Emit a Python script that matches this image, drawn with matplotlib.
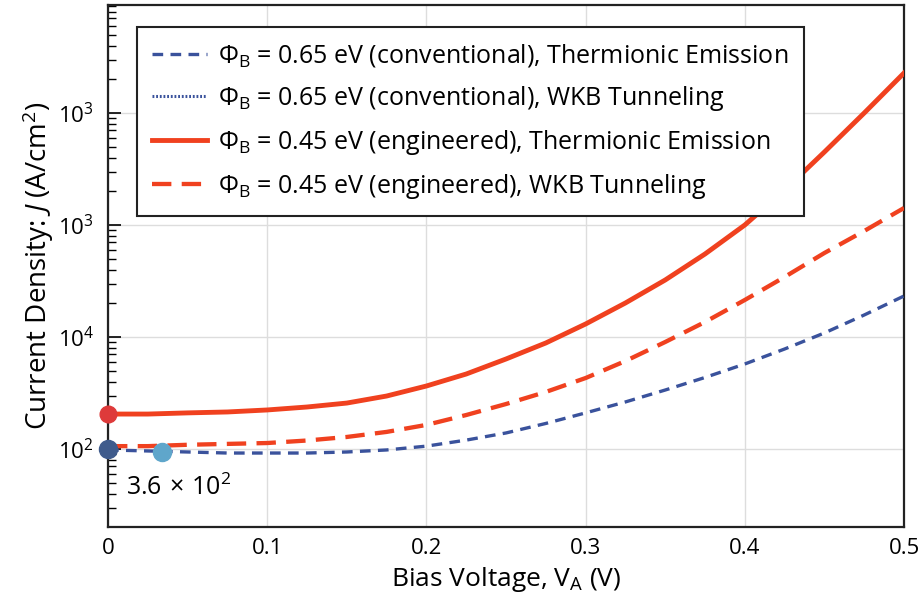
import matplotlib
matplotlib.use("AGG")
import matplotlib.pyplot as plt
from matplotlib.ticker import FixedLocator, FixedFormatter, LogLocator, NullFormatter

plt.rcParams['font.family'] = ['Open Sans', 'DejaVu Sans']
plt.rcParams['mathtext.fontset'] = 'custom'
plt.rcParams['mathtext.rm'] = 'Open Sans'
plt.rcParams['mathtext.it'] = 'Open Sans:italic'

# bias voltage (V)
bias = [0.0, 0.025, 0.05, 0.075, 0.1, 0.125, 0.15, 0.175, 0.2, 0.225, 0.25,
        0.275, 0.3, 0.325, 0.35, 0.375, 0.4, 0.425, 0.45, 0.475, 0.5]
# current density (A/cm2)
eng_te = [205, 205, 210, 214, 223, 237, 257, 297, 365, 467, 636,
          884, 1306, 2012, 3228, 5509, 10000, 20530, 44850, 100000, 227600]
eng_wkb = [106, 106, 109, 111, 113, 119, 128, 142, 164, 201, 252,
           323, 430, 610, 902, 1361, 2140, 3434, 5623, 8841, 14180]
conv_te = [98, 96, 94, 92, 92, 92, 94, 98, 106, 120, 139,
           169, 210, 263, 336, 435, 574, 781, 1086, 1572, 2323]

# y tick positions and the labels as printed on the reference
ytick_vals = [1e2, 1e3, 1e4, 1e5]
ytick_text = ['$10^2$', '$10^4$', '$10^3$', '$10^3$']

labels = [r'$\Phi_\mathrm{B}$ = 0.65 eV (conventional), Thermionic Emission',
          r'$\Phi_\mathrm{B}$ = 0.65 eV (conventional), WKB Tunneling',
          r'$\Phi_\mathrm{B}$ = 0.45 eV (engineered), Thermionic Emission',
          r'$\Phi_\mathrm{B}$ = 0.45 eV (engineered), WKB Tunneling']

red = '#F0411F'
blue = '#3A529C'

fig = plt.figure(figsize=(9.24, 6.05), dpi=100)
ax = fig.add_axes([0.1169, 0.1289, 0.8615, 0.8628])

ax.plot(bias, conv_te, color=blue, lw=2.4, dashes=(3.2, 2.2), label=labels[0], zorder=3)
ax.plot([], [], color=blue, lw=2.2, linestyle=(0, (0.6, 0.6)), label=labels[1])
ax.plot(bias, eng_te, color=red, lw=3.5, label=labels[2], zorder=3)
ax.plot(bias, eng_wkb, color=red, lw=3.1, dashes=(4.5, 2.4), label=labels[3], zorder=3)

# end-point markers
ax.plot([0.0], [eng_te[0]], 'o', color='#DE3a3a', ms=12, clip_on=False, zorder=5)
ax.plot([0.0], [100], 'o', color='#3F5B8C', ms=13, clip_on=False, zorder=5)
ax.plot([0.034], [94], 'o', color='#5FA6CB', ms=13, clip_on=False, zorder=4)
ax.text(0.011, 45, r'3.6$\,\times\,$10$^2$', fontsize=18, va='center', ha='left')

ax.set_yscale('log')
ax.set_xlim(0, 0.5)
ax.set_ylim(20.1, 9.2e5)
ax.set_xticks([0, 0.1, 0.2, 0.3, 0.4, 0.5])
ax.set_xticklabels(['0', '0.1', '0.2', '0.3', '0.4', '0.5'])
ax.yaxis.set_major_locator(FixedLocator(ytick_vals))
ax.yaxis.set_major_formatter(FixedFormatter(ytick_text))
ax.yaxis.set_minor_locator(LogLocator(base=10, subs=range(2, 10), numticks=20))
ax.yaxis.set_minor_formatter(NullFormatter())

ax.tick_params(axis='x', length=0, labelsize=16, pad=8)
ax.tick_params(axis='y', which='major', direction='in', length=9, width=1.2, labelsize=16, pad=10)
ax.tick_params(axis='y', which='minor', direction='in', length=6, width=1.0)
ax.grid(True, which='major', color='#DDDDDD', lw=1.0)
ax.set_axisbelow(True)
for s in ax.spines.values():
    s.set_linewidth(1.6)
    s.set_color('#222222')

# partial label cut by the top edge
ax.text(-0.013, 10**6.07, '$10^5$', fontsize=16, ha='right', va='center',
        transform=ax.get_yaxis_transform(), clip_on=False)

ax.set_xlabel('Bias Voltage, V$_\\mathrm{A}$ (V)', fontsize=19, labelpad=4)
ax.set_ylabel('Current Density: $\\mathit{J}$ (A/cm$^2$)', fontsize=20, labelpad=1)

leg = ax.legend(loc='upper left', bbox_to_anchor=(0.0364, 0.958), borderaxespad=0,
                fontsize=18, handlelength=2.2, handletextpad=0.45, labelspacing=0.6,
                frameon=True, fancybox=False, edgecolor='#222222', borderpad=0.6,
                framealpha=1.0)
leg.get_frame().set_linewidth(1.5)

fig.savefig('out.png', dpi=100)
